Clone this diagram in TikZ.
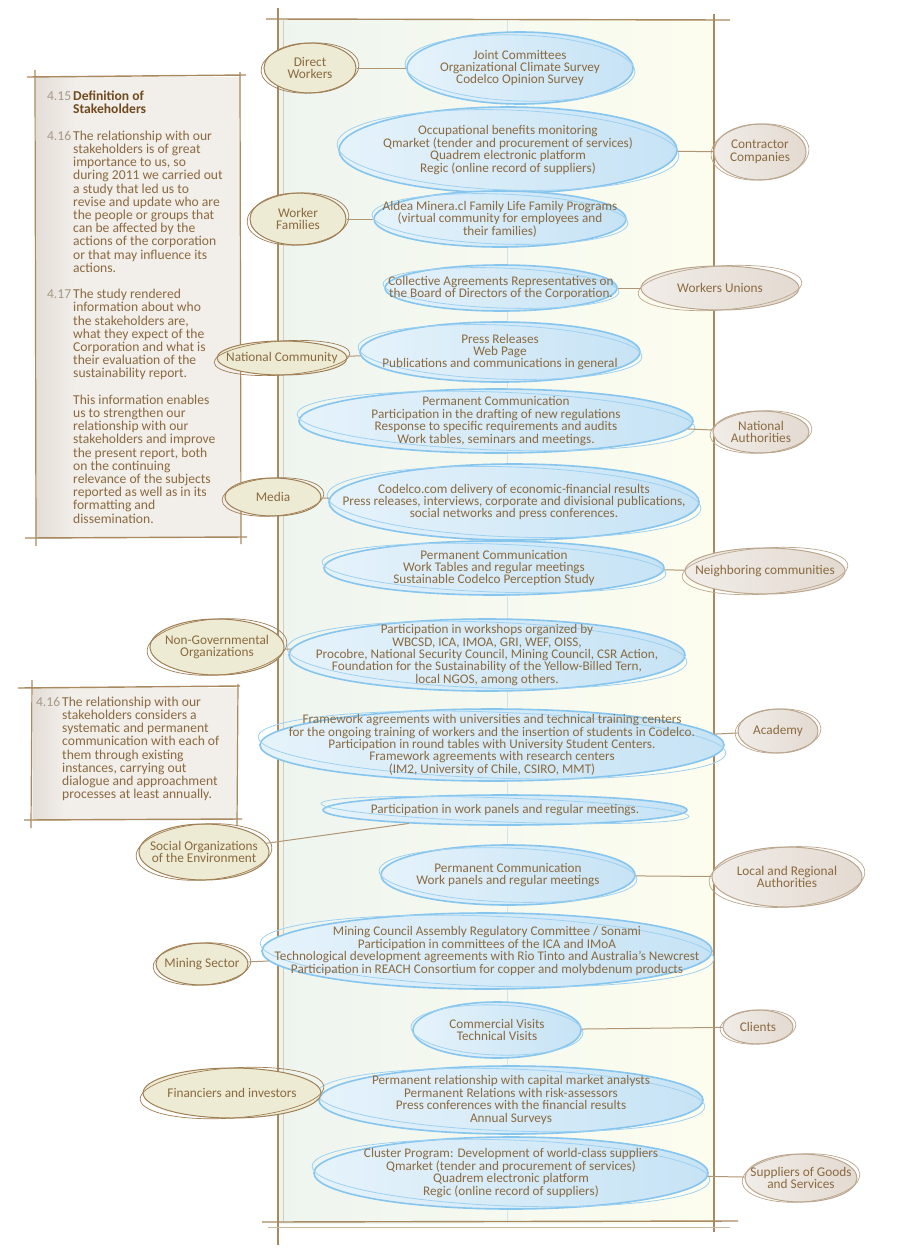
\documentclass[tikz,border=0pt]{standalone}
\usepackage{fontspec}
\setmainfont{Carlito}
\usetikzlibrary{positioning, shapes.geometric, calc}

\definecolor{textbrown}{HTML}{8A6A40}
\definecolor{titlebrown}{HTML}{6E4A1E}
\definecolor{numgray}{HTML}{A59886}
\definecolor{frame}{HTML}{A98A60}
\definecolor{bubfill}{HTML}{C6E3F5}
\definecolor{bubline}{HTML}{86C5EE}
\definecolor{leftfill}{HTML}{EDEBD4}
\definecolor{leftline}{HTML}{A07F55}
\definecolor{rightfill}{HTML}{E3DAD1}
\definecolor{rightline}{HTML}{BBA68E}
\definecolor{boxfill}{HTML}{F2EEEA}
\definecolor{boxshade}{HTML}{E4DED7}
\definecolor{linkc}{HTML}{B09674}
\definecolor{panelA}{HTML}{EEF5EF}
\definecolor{panelB}{HTML}{FDFDEF}
\definecolor{midline}{HTML}{D3E5EC}

\begin{document}
\begin{tikzpicture}[x=1pt, y=-1pt,
    bubble/.style={ellipse, left color=bubfill!45!white, right color=bubfill, draw=bubline, line width=1.6pt, inner sep=0pt},
    bubtext/.style={align=center, text=textbrown, font=\fontsize{13.2}{12.4}\selectfont, inner sep=0pt},
    holderL/.style={ellipse, fill=leftfill, draw=leftline, line width=1pt, inner sep=0pt},
    holderR/.style={ellipse, left color=rightfill!50!white, right color=rightfill, draw=rightline, line width=1pt, inner sep=0pt},
    holdtext/.style={align=center, text=textbrown, font=\fontsize{13.3}{12.8}\selectfont, inner sep=0pt},
    link/.style={draw=linkc, line width=1pt},
    boxtext/.style={align=left, anchor=north west, text=textbrown, inner sep=0pt},
    edge/.style={draw=frame, line width=1.4pt}
  ]
        \useasboundingbox[fill=white] (0,0) rectangle (900,1248);

        % panel
        \shade[left color=panelA, right color=panelB] (279,20) rectangle (714,1223);
        \draw[midline, line width=0.8pt] (507,20) -- (507,1223);
        \draw[edge, line width=1.6pt] (278,8) -- (278,1245);
        \draw[frame!45, line width=0.8pt] (283,20) -- (283,1221);
        \draw[edge] (266,19) -- (730,20);
        \draw[edge, line width=1.2pt] (714,14) -- (714,1232);
        \draw[edge] (262,1222) -- (738,1221);
        \draw[frame!60, line width=0.8pt] (268,1227) -- (730,1227);

        % text box 1
        \fill[boxfill] (35,77) rectangle (241,538);
        \shade[left color=boxshade, right color=boxfill] (36,77) rectangle (76,538);
        \draw[edge] (27,77) -- (246,75);
        \draw[edge, line width=1.2pt] (35,70) -- (36,546);
        \draw[edge, line width=1.2pt] (240,72) -- (241,544);
        \draw[edge] (25,538) -- (247,537);
        \node[boxtext, font=\fontsize{13.6}{13.2}\selectfont] (defs) at (73,91) {%
            \llap{\textcolor{numgray}{4.15}\hspace{2pt}}\textbf{\textcolor{titlebrown}{Definition of}}\\
            \textbf{\textcolor{titlebrown}{Stakeholders}}\\[13.2pt]
            \llap{\textcolor{numgray}{4.16}\hspace{2pt}}The relationship with our\\
            stakeholders is of great\\
            importance to us, so\\
            during 2011 we carried out\\
            a study that led us to\\
            revise and update who are\\
            the people or groups that\\
            can be affected by the\\
            actions of the corporation\\
            or that may influence its\\
            actions.\\[13.2pt]
            \llap{\textcolor{numgray}{4.17}\hspace{2pt}}The study rendered\\
            information about who\\
            the stakeholders are,\\
            what they expect of the\\
            Corporation and what is\\
            their evaluation of the\\
            sustainability report.\\[13.2pt]
            This information enables\\
            us to strengthen our\\
            relationship with our\\
            stakeholders and improve\\
            the present report, both\\
            on the continuing\\
            relevance of the subjects\\
            reported as well as in its\\
            formatting and\\
            dissemination.};

        % text box 2
        \fill[boxfill] (32,688) rectangle (238,820);
        \shade[left color=boxshade, right color=boxfill] (33,688) rectangle (66,820);
        \draw[edge] (18,688) -- (240,686);
        \draw[edge, line width=1.2pt] (32,680) -- (31,828);
        \draw[edge, line width=1.2pt] (238,684) -- (237,826);
        \draw[edge] (24,820) -- (242,819);
        \node[boxtext, font=\fontsize{13.6}{13.1}\selectfont] (rel) at (62,697) {%
            \llap{\textcolor{numgray}{4.16}\hspace{2pt}}The relationship with our\\
            stakeholders considers a\\
            systematic and permanent\\
            communication with each of\\
            them through existing\\
            instances, carrying out\\
            dialogue and approachment\\
            processes at least annually.};

        % blue bubbles with the channels
        \foreach \n/\x/\y/\w/\h/\t in {
            b1/520/68/226/72/{Joint Committees\\Organizational Climate Survey\\Codelco Opinion Survey},
            b2/508/150/338/86/{Occupational benefits monitoring\\Qmarket (tender and procurement of services)\\Quadrem electronic platform\\Regic (online record of suppliers)},
            b3/500/219/252/56/{Aldea Minera.cl Family Life Family Programs\\(virtual community for employees and\\their families)},
            b4/501/288/232/46/{Collective Agreements Representatives on\\the Board of Directors of the Corporation.},
            b5/500/352/280/60/{Press Releases\\Web Page\\Publications and communications in general},
            b6/496/421/394/64/{Permanent Communication\\Participation in the drafting of new regulations\\Response to specific requirements and audits\\Work tables, seminars and meetings.},
            b7/514/502/370/76/{Codelco.com delivery of economic-financial results\\Press releases, interviews, corporate and divisional publications,\\social networks and press conferences.},
            b8/494/568/340/54/{Permanent Communication\\Work Tables and regular meetings\\Sustainable Codelco Perception Study},
            b9/487/655/396/72/{Participation in workshops organized by\\WBCSD, ICA, IMOA, GRI, WEF, OISS,\\Procobre, National Security Council, Mining Council, CSR Action,\\Foundation for the Sustainability of the Yellow-Billed Tern,\\local NGOS, among others.},
            b10/492/745/464/72/{Framework agreements with universities and technical training centers\\for the ongoing training of workers and the insertion of students in Codelco.\\Participation in round tables with University Student Centers.\\Framework agreements with research centers\\(IM2, University of Chile, CSIRO, MMT)},
            b11/505/810/364/30/{Participation in work panels and regular meetings.},
            b12/508/875/254/60/{Permanent Communication\\Work panels and regular meetings},
            b13/487/951/450/76/{Mining Council Assembly Regulatory Committee / Sonami\\Participation in committees of the ICA and IMoA\\Technological development agreements with Rio Tinto and Australia's Newcrest\\Participation in REACH Consortium for copper and molybdenum products},
            b14/497/1030/168/56/{Commercial Visits\\Technical Visits},
            b15/511/1100/384/68/{Permanent relationship with capital market analysts\\Permanent Relations with risk-assessors\\Press conferences with the financial results\\Annual Surveys},
            b16/511/1173/394/72/{Cluster Program: Development of world-class suppliers\\Qmarket (tender and procurement of services)\\Quadrem electronic platform\\Regic (online record of suppliers)}}
        {
            \node[bubble, minimum width=\w pt, minimum height=\h pt] (\n) at (\x,\y) {};
            \draw[bubline!80, line width=0.8pt, rotate around={-2:(\n.center)}] (\n.center) ellipse ({\w/2+2} and {\h/2-3});
            \node[bubtext] (\n-t) at (\n) {\t};
        }

        % stakeholders
        \foreach \n/\x/\y/\w/\h/\s/\t in {
            dw/310/68/92/50/holderL/{Direct\\Workers},
            wf/298/219/96/52/holderL/{Worker\\Families},
            nc/282/358/130/34/holderL/{National Community},
            md/273/497/96/38/holderL/{Media},
            ngo/217/647/134/56/holderL/{Non-Governmental\\Organizations},
            soe/204/852/130/56/holderL/{Social Organizations\\of the Environment},
            ms/202/964/92/42/holderL/{Mining Sector},
            fi/232/1093/178/50/holderL/{Financiers and investors},
            cc/760/152/92/56/holderR/{Contractor\\Companies},
            wu/720/288/158/44/holderR/{Workers Unions},
            na/761/432/96/42/holderR/{National\\Authorities},
            nbc/765/571/160/46/holderR/{Neighboring communities},
            ac/778/731/80/44/holderR/{Academy},
            lra/787/877/150/60/holderR/{Local and Regional\\Authorities},
            cl/758/1027/70/34/holderR/{Clients},
            sgs/801/1178/112/48/holderR/{Suppliers of Goods\\and Services}}
        {
            \node[\s, minimum width=\w pt, minimum height=\h pt] (\n) at (\x,\y) {};
            \draw[\s, fill=none, shade=false, line width=0.7pt, rotate around={4:(\n.center)}] (\n.center) ellipse ({\w/2+3} and {\h/2});
            \node[holdtext] (\n-t) at (\n) {\t};
        }

        % connectors
        \foreach \a/\b in {dw/b1, wf/b3, nc/b5, md/b7, ngo/b9, soe/b11, ms/b13, fi/b15,
                           b2/cc, b4/wu, b6/na, b8/nbc, b10/ac, b12/lra, b14/cl, b16/sgs}
        {
            \draw[link] (\a) -- (\b);
        }
    \end{tikzpicture}
\end{document}
